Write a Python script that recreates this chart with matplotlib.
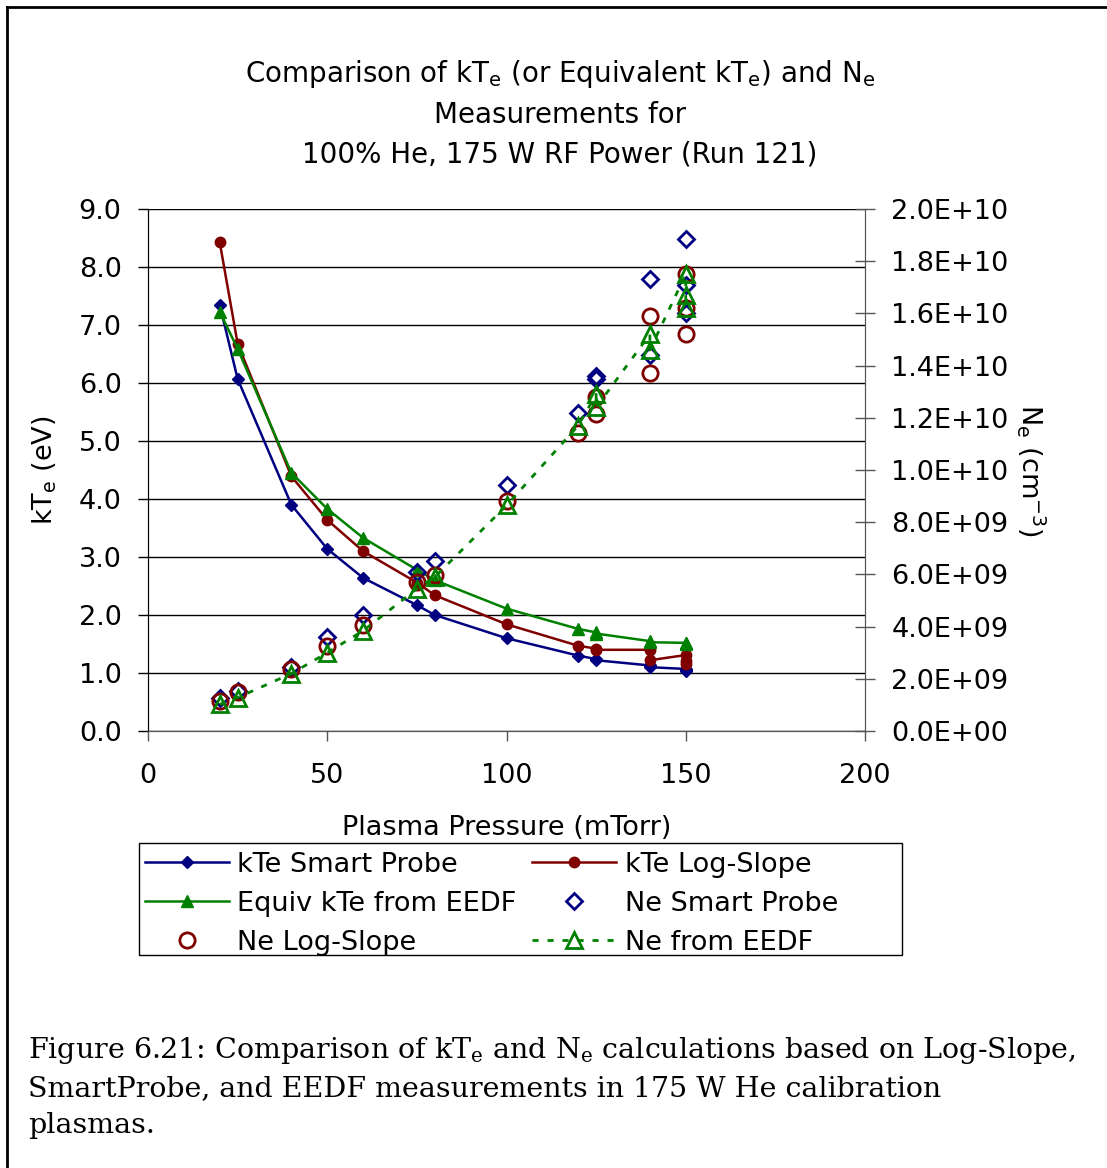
import matplotlib
matplotlib.use('Agg')
import matplotlib.pyplot as plt
from matplotlib.lines import Line2D
from matplotlib.patches import Rectangle

plt.rcParams['font.family'] = ['DejaVu Sans']
plt.rcParams['mathtext.default'] = 'regular'

# data
pressure = [20, 25, 40, 50, 60, 75, 80, 100, 120, 125, 125, 140, 140, 150, 150, 150]

kte_smart = [7.35, 6.07, 3.90, 3.14, 2.64, 2.17, 2.00, 1.60, 1.30, 1.24, 1.22, 1.13, 1.10, 1.07, 1.05, 1.04]
kte_logslope = [8.43, 6.68, 4.39, 3.64, 3.10, 2.56, 2.34, 1.84, 1.47, 1.42, 1.40, 1.40, 1.22, 1.31, 1.20, 1.16]
kte_eedf = [7.23, 6.59, 4.45, 3.83, 3.33, 2.78, 2.60, 2.11, 1.76, 1.70, 1.68, 1.55, 1.53, 1.52, 1.51, 1.50]

ne_smart = [1.28e9, 1.55e9, 2.47e9, 3.6e9, 4.44e9, 6.1e9, 6.5e9, 9.43e9, 12.2e9, 13.6e9, 13.5e9,
            17.3e9, 14.4e9, 18.85e9, 17.1e9, 16.0e9]
ne_logslope = [1.15e9, 1.48e9, 2.37e9, 3.27e9, 4.07e9, 5.7e9, 5.98e9, 8.83e9, 11.4e9, 12.8e9, 12.15e9,
               15.9e9, 13.7e9, 17.5e9, 16.2e9, 15.2e9]
ne_eedf = [1.02e9, 1.28e9, 2.2e9, 3.0e9, 3.84e9, 5.45e9, 5.9e9, 8.64e9, 11.7e9, 12.9e9, 12.4e9,
           15.2e9, 14.6e9, 17.5e9, 16.7e9, 16.2e9]

left_ticks = [0, 1, 2, 3, 4, 5, 6, 7, 8, 9]
right_ticks = [0, 2e9, 4e9, 6e9, 8e9, 1e10, 1.2e10, 1.4e10, 1.6e10, 1.8e10, 2e10]
x_ticks = [0, 50, 100, 150, 200]

navy = '#000080'
dred = '#800000'
green = '#008000'

W, H = 1107, 1168
fig = plt.figure(figsize=(W / 100, H / 100), dpi=100)

# outer frame (left and top only)
fig.add_artist(Line2D([7 / W, 7 / W], [0, 1 - 7 / H], color='black', lw=2, transform=fig.transFigure))
fig.add_artist(Line2D([7 / W, 1], [1 - 7 / H, 1 - 7 / H], color='black', lw=2, transform=fig.transFigure))

ax = fig.add_axes([148 / W, 1 - 731 / H, 717 / W, 522 / H])
ax2 = ax.twinx()

fs = 19.5

ax.plot(pressure, kte_smart, color=navy, lw=1.8, marker='D', ms=6, label='kTe Smart Probe')
ax.plot(pressure, kte_logslope, color=dred, lw=1.8, marker='o', ms=7.5, label='kTe Log-Slope')
ax.plot(pressure, kte_eedf, color=green, lw=1.8, marker='^', ms=8, label='Equiv kTe from EEDF')

ax2.plot(pressure, ne_smart, ls='none', marker='D', ms=8.5, mfc='none', mec=navy, mew=2,
         label='Ne Smart Probe')
ax2.plot(pressure, ne_logslope, ls='none', marker='o', ms=11, mfc='none', mec=dred, mew=2,
         label='Ne Log-Slope')
ax2.plot(pressure, ne_eedf, color=green, lw=2, ls=(0, (2.2, 3.2)), marker='^', ms=11, mfc='none',
         mec=green, mew=2, label='Ne from EEDF')

ax.set_xlim(0, 200)
ax.set_ylim(0, 9)
ax2.set_ylim(0, 2e10)

ax.set_xticks(x_ticks)
ax.set_yticks(left_ticks)
ax.set_yticklabels(['%.1f' % v for v in left_ticks])
ax2.set_yticks(right_ticks)
ax2.set_yticklabels(['%.1E' % v for v in right_ticks])

ax.yaxis.grid(True, color='black', lw=1)
ax.set_axisbelow(True)

for a in (ax, ax2):
    a.spines['top'].set_visible(False)
    a.spines['left'].set_color('black')
    a.spines['right'].set_color('#555555')
    a.spines['bottom'].set_color('#555555')

ax.tick_params(axis='x', direction='out', length=7, width=1, color='#555555', pad=16, labelsize=fs)
ax.tick_params(axis='y', direction='out', length=7, width=1, pad=12, labelsize=fs)
ax2.tick_params(axis='y', direction='inout', length=14, width=1, color='#555555', pad=12, labelsize=fs)

ax.set_xlabel('Plasma Pressure (mTorr)', fontsize=fs, labelpad=19)
ax.set_ylabel('kT$_e$ (eV)', fontsize=fs, labelpad=14)
ax2.set_ylabel('N$_e$ (cm$^{-3}$)', fontsize=fs, rotation=270, labelpad=28)

fig.text(560 / W, 1 - 113 / H,
         'Comparison of kT$_e$ (or Equivalent kT$_e$) and N$_e$\nMeasurements for\n'
         '100% He, 175 W RF Power (Run 121)',
         ha='center', va='center', fontsize=20, linespacing=1.5)

# legend box drawn separately so it can be wider than the entries, as in the original
fig.add_artist(Rectangle((139 / W, 1 - 955 / H), 763 / W, 112 / H, transform=fig.transFigure,
                         fill=False, edgecolor='black', lw=1))

h1, l1 = ax.get_legend_handles_labels()
h2, l2 = ax2.get_legend_handles_labels()
order_h = [h1[0], h1[2], h2[1], h1[1], h2[0], h2[2]]
order_l = [l1[0], l1[2], l2[1], l1[1], l2[0], l2[2]]
leg = fig.legend(order_h, order_l, ncol=2, loc='upper left', bbox_to_anchor=(142 / W, 1 - 849 / H),
                 borderaxespad=0, fontsize=fs, frameon=False, handlelength=3.1,
                 handletextpad=0.3, columnspacing=0.6, labelspacing=0.48, borderpad=0.1, numpoints=1)

fig.text(28 / W, 1 - 1087 / H,
         'Figure 6.21: Comparison of kT$_e$ and N$_e$ calculations based on Log-Slope,\n'
         'SmartProbe, and EEDF measurements in 175 W He calibration\nplasmas.',
         ha='left', va='center', fontsize=20.5, family='DejaVu Serif', linespacing=1.47)

fig.savefig('out.png', dpi=100)
